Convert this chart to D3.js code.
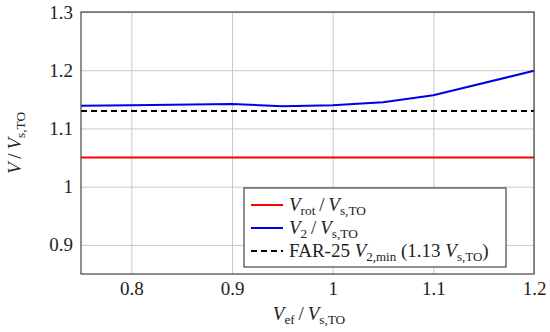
<!DOCTYPE html>
<html>
<head>
<meta charset="utf-8">
<script src="https://cdn.jsdelivr.net/npm/d3@7"></script>
<style>
  body { margin: 0; background: #fff; }
  svg { display: block; font-family: "Liberation Serif", "DejaVu Serif", serif; }
  svg text { font-family: "Liberation Serif", "DejaVu Serif", serif; }
</style>
</head>
<body>
<div id="chart"></div>
<script>
const width = 550;
const height = 332;
const margin = { top: 12, right: 16, bottom: 58, left: 81 };

// data
const xValues = [0.75, 0.8, 0.9, 0.95, 1.0, 1.05, 1.1, 1.2];
const v2Values = [1.139, 1.140, 1.142, 1.138, 1.140, 1.145, 1.157, 1.199];
const vrotValue = 1.05;
const v2minValue = 1.13;
const xTicks = [0.8, 0.9, 1.0, 1.1, 1.2];
const yTicks = [0.9, 1.0, 1.1, 1.2, 1.3];

const svg = d3.select("#chart").append("svg")
    .attr("width", width)
    .attr("height", height);

const x = d3.scaleLinear().domain([0.75, 1.2]).range([margin.left, width - margin.right]);
const y = d3.scaleLinear().domain([0.85, 1.3]).range([height - margin.bottom, margin.top]);

const fmt = d => (d === 1 ? "1" : d3.format(".1f")(d));

// grid
svg.append("g")
    .attr("transform", `translate(0,${height - margin.bottom})`)
    .call(d3.axisBottom(x).tickValues(xTicks).tickSize(-(height - margin.top - margin.bottom)).tickFormat(""))
    .call(g => g.select(".domain").remove())
    .call(g => g.selectAll("line").attr("stroke", "#c8c8c8"));

svg.append("g")
    .attr("transform", `translate(${margin.left},0)`)
    .call(d3.axisLeft(y).tickValues(yTicks).tickSize(-(width - margin.left - margin.right)).tickFormat(""))
    .call(g => g.select(".domain").remove())
    .call(g => g.selectAll("line").attr("stroke", "#c8c8c8"));

// tick labels
svg.append("g")
    .attr("transform", `translate(0,${height - margin.bottom})`)
    .call(d3.axisBottom(x).tickValues(xTicks).tickSize(0).tickPadding(8).tickFormat(fmt))
    .call(g => g.select(".domain").remove())
    .call(g => g.attr("font-family", null).attr("font-size", 19))
    .call(g => g.selectAll("text").attr("fill", "#222"));

svg.append("g")
    .attr("transform", `translate(${margin.left},0)`)
    .call(d3.axisLeft(y).tickValues(yTicks).tickSize(0).tickPadding(8).tickFormat(fmt))
    .call(g => g.select(".domain").remove())
    .call(g => g.attr("font-family", null).attr("font-size", 19))
    .call(g => g.selectAll("text").attr("fill", "#222"));

// lines
const line = d3.line().x(d => x(d[0])).y(d => y(d[1]));

svg.append("path")
    .datum([[0.75, vrotValue], [1.2, vrotValue]])
    .attr("d", line)
    .attr("fill", "none")
    .attr("stroke", "#ff0000")
    .attr("stroke-width", 2);

svg.append("path")
    .datum([[0.75, v2minValue], [1.2, v2minValue]])
    .attr("d", line)
    .attr("fill", "none")
    .attr("stroke", "#000")
    .attr("stroke-width", 2)
    .attr("stroke-dasharray", "6,4");

svg.append("path")
    .datum(xValues.map((v, i) => [v, v2Values[i]]))
    .attr("d", line)
    .attr("fill", "none")
    .attr("stroke", "#0000e6")
    .attr("stroke-width", 2);

// frame
svg.append("rect")
    .attr("x", margin.left)
    .attr("y", margin.top)
    .attr("width", width - margin.left - margin.right)
    .attr("height", height - margin.top - margin.bottom)
    .attr("fill", "none")
    .attr("stroke", "#444")
    .attr("stroke-width", 1.2);

// helper for V_sub / V_s,TO style labels
function fracLabel(sel, sub, size) {
    sel.append("tspan").attr("font-style", "italic").text("V");
    if (sub) sel.append("tspan").attr("font-size", size * 0.7).attr("dy", 4).text(sub);
    sel.append("tspan").attr("dy", sub ? -4 : 0).text("\u2009/\u2009");
    sel.append("tspan").attr("font-style", "italic").text("V");
    sel.append("tspan").attr("font-size", size * 0.7).attr("dy", 4).text("s,TO");
}

// axis labels
const xLabel = svg.append("text")
    .attr("x", 309)
    .attr("y", 320)
    .attr("text-anchor", "middle")
    .attr("font-size", 19)
    .attr("fill", "#222");
fracLabel(xLabel, "ef", 19);

const yLabel = svg.append("text")
    .attr("transform", `translate(21,${(margin.top + height - margin.bottom) / 2}) rotate(-90)`)
    .attr("text-anchor", "middle")
    .attr("font-size", 19)
    .attr("fill", "#222");
fracLabel(yLabel, null, 19);

// legend
const legend = svg.append("g");
legend.append("rect")
    .attr("x", 244).attr("y", 188)
    .attr("width", 262).attr("height", 79)
    .attr("fill", "#fff")
    .attr("stroke", "#222")
    .attr("stroke-width", 1);

const legendItems = [
    { color: "#ff0000", dash: null, label: "rot" },
    { color: "#0000e6", dash: null, label: "2" },
    { color: "#000", dash: "6,4", label: "far" }
];
const rowY = [205, 228, 251];

legendItems.forEach((d, i) => {
    legend.append("line")
        .attr("x1", 251).attr("x2", 283)
        .attr("y1", rowY[i]).attr("y2", rowY[i])
        .attr("stroke", d.color)
        .attr("stroke-width", 2)
        .attr("stroke-dasharray", d.dash);
    const t = legend.append("text")
        .attr("x", 289).attr("y", rowY[i] + 5.5)
        .attr("font-size", 19)
        .attr("fill", "#222");
    if (d.label === "far") {
        t.append("tspan").text("FAR-25 ");
        t.append("tspan").attr("font-style", "italic").text("V");
        t.append("tspan").attr("font-size", 13).attr("dy", 4).text("2,min");
        t.append("tspan").attr("dy", -4).text(" (1.13 ");
        t.append("tspan").attr("font-style", "italic").text("V");
        t.append("tspan").attr("font-size", 13).attr("dy", 4).text("s,TO");
        t.append("tspan").attr("dy", -4).text(")");
    } else {
        fracLabel(t, d.label, 19);
    }
});
</script>
</body>
</html>
